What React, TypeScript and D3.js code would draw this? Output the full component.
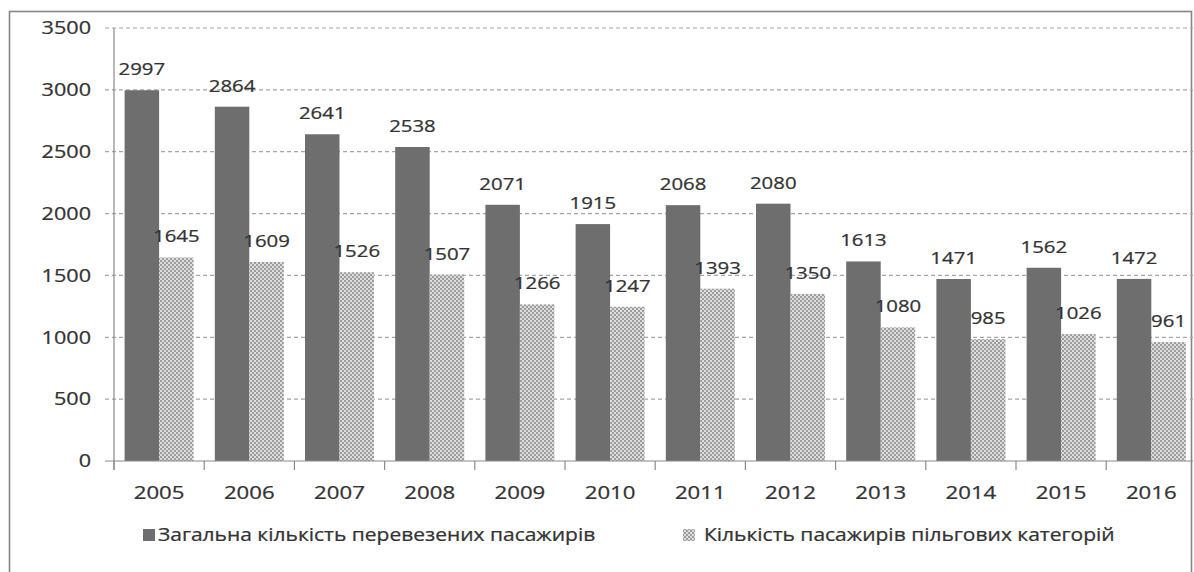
import React from "react";
import * as d3 from "d3";

const years = ["2005","2006","2007","2008","2009","2010","2011","2012","2013","2014","2015","2016"];
const totalPassengers = [2997,2864,2641,2538,2071,1915,2068,2080,1613,1471,1562,1472];
const privilegedPassengers = [1645,1609,1526,1507,1266,1247,1393,1350,1080,985,1026,961];
const yTicks = [0,500,1000,1500,2000,2500,3000,3500];
const seriesNames = ["Загальна кількість перевезених пасажирів","Кількість пасажирів пільгових категорій"];

const W = 1194, H = 572;
const FONT = "'Open Sans', 'Noto Sans', sans-serif";
const TEXT = "#333333";
const SX = 1.2;

function T({ x, y, anchor = "start", size, children, dy }: any) {
  return (
    <text
      transform={`translate(${x},${y}) scale(${SX},1)`}
      textAnchor={anchor}
      fontSize={size}
      dy={dy}
      fill={TEXT}
      stroke={TEXT}
      strokeWidth={0.25}
    >
      {children}
    </text>
  );
}

export default function App() {
  const x = d3.scaleBand<string>().domain(years).range([114, 1196.4]).paddingInner(0).paddingOuter(0);
  const y = d3.scaleLinear().domain([0, 3500]).range([461, 28]);
  const bw = 34.5;
  const off = (x.bandwidth() - 2 * bw) / 2;
  const series = [
    { name: seriesNames[0], values: totalPassengers, fill: "#6e6e6e" },
    { name: seriesNames[1], values: privilegedPassengers, fill: "url(#hatch)" },
  ];
  return (
    <svg width={W} height={H} style={{ position: "absolute", left: 0, top: 0, background: "#fff" }} fontFamily={FONT}>
      <defs>
        <pattern id="hatch" patternUnits="userSpaceOnUse" width="4" height="4">
          <rect width="4" height="4" fill="#dedede" />
          <rect x="0" y="0" width="2" height="2" fill="#9c9c9c" />
          <rect x="2" y="2" width="2" height="2" fill="#9c9c9c" />
        </pattern>
      </defs>
      <rect x={9.5} y={11.5} width={1182} height={600} fill="none" stroke="#858585" strokeWidth={1.6} />
      {yTicks.filter(t => t > 0).map(t => (
        <line key={t} x1={105} x2={1193} y1={y(t)} y2={y(t)} stroke="#a6a6a6" strokeWidth={1.2} strokeDasharray="4,3" />
      ))}
      {yTicks.map(t => (
        <T key={t} x={91} y={y(t)} dy="0.35em" anchor="end" size={18}>{t}</T>
      ))}
      {series.map((s, si) =>
        s.values.map((v, i) => {
          const bx = (x(years[i]) as number) + off + si * bw;
          return (
            <g key={si + "-" + i}>
              <rect x={bx} y={y(v)} width={bw} height={y(0) - y(v)} fill={s.fill} />
              <T x={Math.min(bx + bw / 2, 1172)} y={y(v) - 15} anchor="middle" size={17}>{v}</T>
            </g>
          );
        })
      )}
      <line x1={114} x2={114} y1={28} y2={470} stroke="#8a8a8a" strokeWidth={1.2} />
      <line x1={105} x2={1193} y1={461} y2={461} stroke="#8a8a8a" strokeWidth={1.2} />
      {years.map(yr => (
        <line key={yr} x1={x(yr) as number} x2={x(yr) as number} y1={461} y2={470} stroke="#8a8a8a" strokeWidth={1.2} />
      ))}
      {years.map(yr => (
        <T key={yr} x={(x(yr) as number) + x.bandwidth() / 2} y={499} anchor="middle" size={18.5}>{yr}</T>
      ))}
      <rect x={143} y={529} width={12} height={12} fill="#6e6e6e" />
      <T x={158} y={541} size={17.5}>{seriesNames[0]}</T>
      <rect x={683} y={529} width={12} height={12} fill="url(#hatch)" />
      <T x={704} y={541} size={17.5}>{seriesNames[1]}</T>
    </svg>
  );
}
